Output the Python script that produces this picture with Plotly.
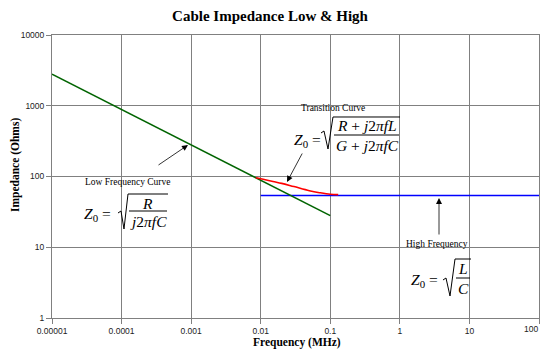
import plotly.graph_objects as go

# ---- data ----
freq_low = [1e-5, 1e-4, 1e-3, 1e-2, 1e-1]
z_low = [2800, 885, 280, 88.5, 28]

freq_trans = [0.0085, 0.01, 0.015, 0.02, 0.03, 0.05, 0.07, 0.1, 0.13]
z_trans = [96, 93, 85, 80, 72, 63, 59, 56, 55.5]

freq_high = [0.01, 100]
z_high = [54, 54]

x_tickvals = [1e-5, 1e-4, 1e-3, 1e-2, 1e-1, 1, 10, 100]
x_ticktext = ["0.00001", "0.0001", "0.001", "0.01", "0.1", "1", "10", "100"]
y_tickvals = [1, 10, 100, 1000, 10000]
y_ticktext = ["1", "10", "100", "1000", "10000"]

# page body has an 8px margin, so the figure starts at (8, 8) in the window
# and is visible up to x = 540
OFF = 8
W, H = 548 - 2 * OFF, 357 - OFF
# plot area in window pixels
PL, PR, PT, PB = 52, 539, 35, 318
L, R, T, B = PL - OFF, (W + OFF) - PR, PT - OFF, (H + OFF) - PB
PW, PH = PR - PL, PB - PT


def PX(x):
    return (x - PL) / PW


def PY(y):
    return (PB - y) / PH


SERIF = "Liberation Serif, Times New Roman, serif"
SANS = "Liberation Sans, Arial, sans-serif"
TICKFONT = dict(family=SANS, size=8.5, color="#222222")

fig = go.Figure()
fig.add_trace(go.Scatter(x=freq_high, y=z_high, mode="lines",
                         line=dict(color="#0000FF", width=1.6), showlegend=False))
fig.add_trace(go.Scatter(x=freq_low, y=z_low, mode="lines",
                         line=dict(color="#006400", width=1.6), showlegend=False))
fig.add_trace(go.Scatter(x=freq_trans, y=z_trans, mode="lines", line_shape="spline",
                         line=dict(color="#FF0000", width=1.6), showlegend=False))

shapes = []
annotations = []

# white boxes hiding gridlines
for (x0, y0, x1, y1) in [(80, 173, 185, 237), (292, 101, 377, 114),
                         (290, 114, 400, 160), (403, 233, 476, 298)]:
    shapes.append(dict(type="rect", xref="paper", yref="paper",
                       x0=PX(x0), x1=PX(x1), y0=PY(y1), y1=PY(y0),
                       fillcolor="white", line=dict(width=0), layer="between"))


def path_px(points):
    s = ""
    for i, (x, y) in enumerate(points):
        s += ("M" if i == 0 else " L") + f" {PX(x):.5f},{PY(y):.5f}"
    return s


def radical(points, bar=None):
    shapes.append(dict(type="path", xref="paper", yref="paper", path=path_px(points),
                       line=dict(color="black", width=1), layer="above"))
    if bar:
        (bx0, bx1, by) = bar
        shapes.append(dict(type="line", xref="paper", yref="paper",
                           x0=PX(bx0), x1=PX(bx1), y0=PY(by), y1=PY(by),
                           line=dict(color="black", width=1), layer="above"))


def text(x, y, s, size, xanchor="center", family=SERIF):
    annotations.append(dict(x=PX(x), y=PY(y), xref="paper", yref="paper", text=s,
                            showarrow=False, xanchor=xanchor, yanchor="middle",
                            font=dict(family=family, size=size, color="black")))


def arrow(tip, tail):
    annotations.append(dict(x=PX(tip[0]), y=PY(tip[1]), xref="paper", yref="paper",
                            text="", showarrow=True, ax=tail[0] - tip[0], ay=tail[1] - tip[1],
                            arrowhead=2, arrowsize=1.5, arrowwidth=0.8, arrowcolor="black"))


FS = 15.5
Z0 = "<i>Z</i><sub>0</sub> ="

# Low frequency
text(127, 182, "Low Frequency Curve", 9.5)
text(82, 214, Z0, FS, xanchor="left")
radical([(118, 213), (121, 211), (124, 229), (128, 194), (168, 194)], bar=(129, 167, 211))
text(147, 203, "<i>R</i>", FS)
text(148, 221, "<i>j</i>2<i>πfC</i>", FS)
arrow((188, 145), (157, 166))

# Transition
text(333, 108, "Transition Curve", 9.5)
text(292, 140, Z0, FS, xanchor="left")
radical([(321, 133), (324, 131), (328, 149), (333, 117), (400, 117)], bar=(334, 399, 135))
text(367, 126, "<i>R</i> + <i>j</i>2<i>πfL</i>", FS)
text(367, 145, "<i>G</i> + <i>j</i>2<i>πfC</i>", FS)
arrow((287, 182), (303, 152))

# High frequency
text(437, 244, "High Frequency", 9.5)
text(409, 280, Z0, FS, xanchor="left")
radical([(443, 280), (446, 278), (450, 296), (455, 259), (471, 259)], bar=(456, 470, 278))
text(463, 268, "<i>L</i>", FS)
text(463, 288, "<i>C</i>", FS)
arrow((439, 198), (439, 236))

# last x tick label sits at the window edge: draw it right-aligned so it stays visible
annotations.append(dict(x=PX(540), y=PY(329), xref="paper", yref="paper",
                        text=x_ticktext[-1], showarrow=False, xanchor="right",
                        yanchor="middle", font=TICKFONT))
x_ticktext_axis = x_ticktext[:-1] + [""]

# axis titles
annotations.append(dict(x=PX(15), y=PY(165), xref="paper", yref="paper",
                        text="<b>Impedance (Ohms)</b>", showarrow=False, textangle=-90,
                        xanchor="center", yanchor="middle",
                        font=dict(family=SERIF, size=11.5, color="black")))
annotations.append(dict(x=PX(297), y=PY(342), xref="paper", yref="paper",
                        text="<b>Frequency (MHz)</b>", showarrow=False,
                        xanchor="center", yanchor="middle",
                        font=dict(family=SERIF, size=11.5, color="black")))

axis_common = dict(type="log", showgrid=True, gridcolor="#808080", gridwidth=1,
                   showline=True, linecolor="#808080", linewidth=1, mirror=True,
                   ticks="outside", ticklen=5, tickcolor="#808080", zeroline=False,
                   automargin=False, tickfont=TICKFONT)

fig.update_layout(
    width=W, height=H,
    margin=dict(l=L, r=R, t=T, b=B, autoexpand=False),
    paper_bgcolor="white", plot_bgcolor="white",
    title=dict(text="<b>Cable Impedance Low &amp; High</b>", x=PX(270), xanchor="center",
               xref="paper", y=1 - (16 - OFF) / H, yref="container", yanchor="middle",
               font=dict(family=SERIF, size=15, color="black")),
    xaxis=dict(range=[-5, 2], tickvals=x_tickvals, ticktext=x_ticktext_axis, **axis_common),
    yaxis=dict(range=[0, 4], tickvals=y_tickvals, ticktext=y_ticktext, **axis_common),
    shapes=shapes, annotations=annotations, showlegend=False,
)

fig.write_html("out.html")
